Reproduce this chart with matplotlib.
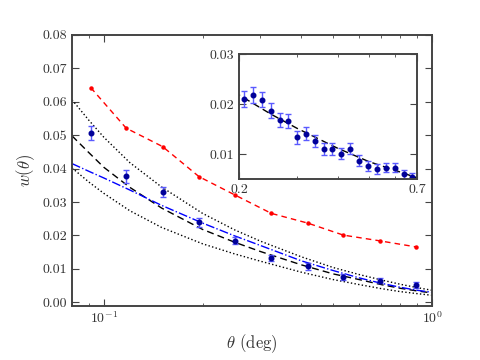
import numpy as np
import matplotlib
matplotlib.use('Agg')
import matplotlib.pyplot as plt
from matplotlib.ticker import FixedLocator, FormatStrFormatter, NullFormatter

plt.rcParams['font.family'] = 'serif'
plt.rcParams['font.serif'] = ['cmr10']
plt.rcParams['mathtext.fontset'] = 'cm'
plt.rcParams['axes.formatter.use_mathtext'] = True
plt.rcParams['axes.unicode_minus'] = False

# measured w(theta), main panel
theta = [0.0913, 0.117, 0.151, 0.195, 0.251, 0.324, 0.418, 0.537, 0.692, 0.891]
w_obs = [0.0506, 0.0377, 0.0329, 0.0239, 0.0184, 0.0133, 0.0108, 0.0076, 0.0065, 0.0052]
w_err = [0.0021, 0.0019, 0.0015, 0.0013, 0.0011, 0.0010, 0.0010, 0.0009, 0.0008, 0.0008]
w_red = [0.0642, 0.0521, 0.0466, 0.0376, 0.0321, 0.0266, 0.0237, 0.0201, 0.0184, 0.0166]

# model curves
theta_mod = [0.08, 0.09, 0.1, 0.12, 0.15, 0.2, 0.25, 0.3, 0.4, 0.5, 0.6, 0.7, 0.8, 0.9, 1.0]
w_model = [0.0498, 0.0448, 0.0404, 0.0344, 0.0282, 0.0218, 0.0180, 0.0152, 0.0112,
           0.0085, 0.0068, 0.0053, 0.0042, 0.0034, 0.0028]
w_upper = [0.0606, 0.0545, 0.0494, 0.0418, 0.0345, 0.0266, 0.0217, 0.0183, 0.0136,
           0.0104, 0.0083, 0.0067, 0.0054, 0.0044, 0.0036]
w_lower = [0.0402, 0.0360, 0.0326, 0.0274, 0.0224, 0.0175, 0.0145, 0.0123, 0.0090,
           0.0068, 0.0053, 0.0041, 0.0032, 0.0026, 0.0021]
w_blue = [0.0415, 0.0392, 0.0372, 0.0336, 0.0290, 0.0237, 0.0199, 0.0170, 0.0124,
          0.0095, 0.0073, 0.0057, 0.0045, 0.0036, 0.0030]

# inset: fine binning
theta_in = [0.207, 0.220, 0.235, 0.250, 0.266, 0.283, 0.301, 0.320, 0.341, 0.363,
            0.386, 0.411, 0.438, 0.466, 0.496, 0.528, 0.562, 0.598, 0.637, 0.678]
w_in = [0.0211, 0.0219, 0.0209, 0.0187, 0.0169, 0.0166, 0.0134, 0.0141, 0.0126, 0.0111,
        0.0111, 0.0101, 0.0111, 0.0087, 0.0077, 0.0070, 0.0073, 0.0073, 0.0060, 0.0055]
w_in_err = [0.0016, 0.0016, 0.0015, 0.0015, 0.0014, 0.0014, 0.0013, 0.0013, 0.0012, 0.0012,
            0.0012, 0.0011, 0.0011, 0.0011, 0.0010, 0.0010, 0.0009, 0.0009, 0.0009, 0.0008]

spine_c = '#444444'
pt_c = '#000099'
err_c = '#5a5aff'


def style_ax(ax):
    for s in ax.spines.values():
        s.set_color(spine_c)
        s.set_linewidth(1.4)
    ax.tick_params(which='both', direction='in', top=True, right=True,
                   colors=spine_c, labelcolor='#333333', labelsize=10)
    ax.tick_params(which='major', length=5, width=0.8)
    ax.tick_params(which='minor', length=2.5, width=0.6)


fig = plt.figure(figsize=(4.8, 3.6), dpi=100)
ax = fig.add_axes([0.15, 0.151, 0.75, 0.752])

ax.plot(theta_mod, w_upper, color='k', ls=':', lw=1)
ax.plot(theta_mod, w_lower, color='k', ls=':', lw=1)
ax.plot(theta_mod, w_model, color='k', ls='--', lw=1, dashes=(5, 3))
ax.plot(theta_mod, w_blue, color='b', ls='-.', lw=1)
ax.plot(theta, w_red, color='r', ls='--', lw=1, dashes=(4, 3), marker='o', ms=2.2)
ax.errorbar(theta, w_obs, yerr=w_err, fmt='o', ms=3.3, color=pt_c, mec=pt_c,
            ecolor=err_c, elinewidth=1, capsize=2.4, capthick=1)

ax.set_xscale('log')
ax.set_xlim(0.08, 1.0)
ax.set_ylim(-0.001, 0.08)
ax.set_yticks(np.arange(0, 0.081, 0.01))
ax.yaxis.set_major_formatter(FormatStrFormatter('%.2f'))
style_ax(ax)
ax.set_xlabel(r'$\theta$ (deg)', fontsize=12, color='#333333')
ax.set_ylabel(r'$w(\theta)$', fontsize=12, color='#333333')

# inset
axi = fig.add_axes([0.4985, 0.502, 0.370, 0.348])
axi.plot(theta_mod, w_model, color='k', ls='--', lw=1, dashes=(5, 3))
axi.errorbar(theta_in, w_in, yerr=w_in_err, fmt='o', ms=3.3, color=pt_c, mec=pt_c,
             ecolor=err_c, elinewidth=1, capsize=2.4, capthick=1)
axi.set_xscale('log')
axi.set_xlim(0.2, 0.7)
axi.set_ylim(0.005, 0.03)
axi.xaxis.set_major_locator(FixedLocator([0.2, 0.7]))
axi.xaxis.set_major_formatter(FormatStrFormatter('%.1f'))
axi.xaxis.set_minor_locator(FixedLocator([0.3, 0.4, 0.5, 0.6]))
axi.xaxis.set_minor_formatter(NullFormatter())
axi.set_yticks([0.01, 0.02, 0.03])
axi.yaxis.set_major_formatter(FormatStrFormatter('%.2f'))
style_ax(axi)
axi.set_facecolor('white')

fig.savefig('out.png', dpi=100)
